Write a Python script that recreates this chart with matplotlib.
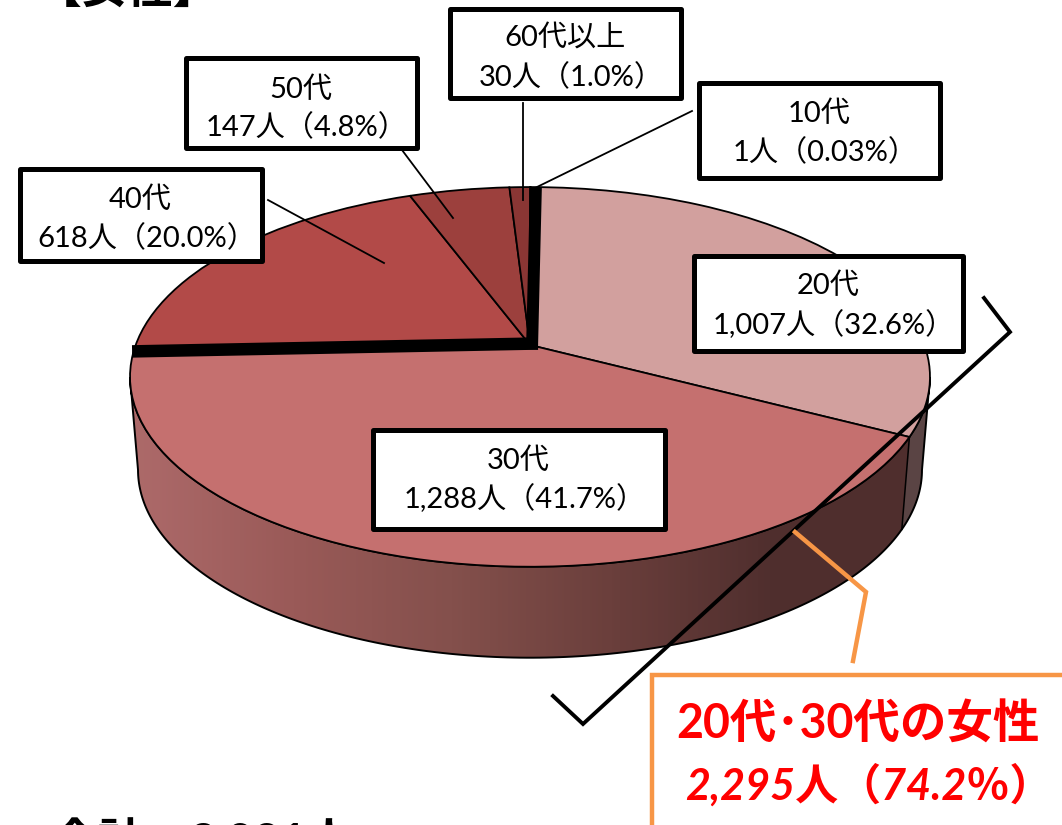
import numpy as np
import matplotlib
matplotlib.use("Agg")
import matplotlib.pyplot as plt
from matplotlib.colors import LinearSegmentedColormap
from matplotlib.patches import Rectangle, PathPatch
from matplotlib.path import Path
from matplotlib.transforms import Transform

plt.rcParams['font.family'] = ['Lato', 'Noto Sans CJK JP', 'DejaVu Sans']

# ---- data ----
ages = ['10代', '20代', '30代', '40代', '50代', '60代以上']
counts = [1, 1007, 1288, 618, 147, 30]
pct_labels = ['0.03', '32.6', '41.7', '20.0', '4.8', '1.0']
slice_colors = ['#000000', '#d2a09e', '#c5706f', '#b24a48', '#9c403d', '#8a3634']
side_stops = ['#ad6a6a', '#9a5a58', '#84504c', '#6b3f3c', '#502f2e', '#4f2e2d']
side_20s_color = '#5a4444'
title = '【女性】'
total_label = '合計　3,091人'
callout_lines = ['20代･30代の女性', '2,295人（74.2％）']

# ---- layout (pixel coordinates) ----
W, H = 1062, 825
CX, Q, P, R, A = 530.0, 345.0, -126.5, 0.168, 394.3
START = 90.0
BASE_CY, TOP_CY, BASE_B, TOP_B, BASE_A, TOP_A = 470.0, 377.0, 188.0, 190.0, 392.0, 400.0
boxes = {
    '60代以上': (447, 6, 683, 100, 38, 77),
    '50代': (183, 55, 419, 150, 90, 127),
    '40代': (17, 166, 264, 263, 200, 238),
    '10代': (696, 80, 942, 180, 114, 152),
    '20代': (691, 253, 965, 353, 286, 325),
    '30代': (370, 427, 667, 531, 461, 499),
}


class Perspective(Transform):
    input_dims = 2
    output_dims = 2
    is_separable = False
    has_inverse = False

    def transform_non_affine(self, xy):
        xy = np.asarray(xy, float)
        w = 1 + R * xy[:, 1]
        return np.column_stack((CX + A * xy[:, 0] / w, (Q + P * xy[:, 1]) / w))


persp = Perspective()
fig = plt.figure(figsize=(W / 100, H / 100), dpi=100, facecolor='white')
ax = fig.add_axes([0, 0, 1, 1])

wedges, _ = ax.pie(counts, startangle=START, counterclock=False, colors=slice_colors,
                   wedgeprops=dict(edgecolor='black', linewidth=1.3, zorder=3))
ax.set_aspect('auto')
ax.set_xlim(0, W)
ax.set_ylim(H, 0)
ax.axis('off')
for w in wedges:
    w.set_transform(persp + ax.transData)


def top_pts(theta_deg):
    t = np.radians(theta_deg)
    return persp.transform_non_affine(np.column_stack((np.cos(t), np.sin(t))))


def base_pts(pts):
    x = CX + (pts[:, 0] - CX) * BASE_A / TOP_A
    y = BASE_CY + (pts[:, 1] - TOP_CY) * BASE_B / TOP_B
    return np.column_stack((x, y))


def side_path(t0, t1):
    th = np.linspace(t0, t1, 200)
    top = top_pts(th)
    return Path(np.vstack((top, base_pts(top)[::-1], top[:1])), closed=True)


# slice boundary angles, clockwise from START
fracs = np.cumsum(counts) / np.sum(counts)
bounds = START - 360 * fracs
edge_20_30 = bounds[1]
edge_30_40 = bounds[2]

# side wall with left-to-right shading
LEFT_T, RIGHT_T = -170.3, -9.7
cmap = LinearSegmentedColormap.from_list('side', side_stops)
grad = np.linspace(0, 1, 400).reshape(1, -1)
img = ax.imshow(grad, cmap=cmap, extent=(130, 930, 670, 180), aspect='auto', zorder=1)
clip = PathPatch(side_path(LEFT_T, RIGHT_T), transform=ax.transData)
img.set_clip_path(clip)
ax.add_patch(PathPatch(side_path(edge_20_30, RIGHT_T), facecolor=side_20s_color,
                       edgecolor='none', zorder=1.5))
ax.add_patch(PathPatch(side_path(LEFT_T, RIGHT_T), facecolor='none',
                       edgecolor='black', linewidth=1.4, zorder=2))
seam = top_pts(np.array([edge_20_30]))
seam_b = base_pts(seam)
ax.plot([seam[0, 0], seam_b[0, 0]], [seam[0, 1], seam_b[0, 1]], color='black', lw=1.1, zorder=2)
ax.set_xlim(0, W)
ax.set_ylim(H, 0)

# heavy separators on the 10s slice and at the 30s/40s edge
top_end = top_pts(np.array([START - 1.0]))[0]
left_end = top_pts(np.array([edge_30_40]))[0]
ax.plot([top_end[0], CX + 2], [top_end[1], Q + 4.5], color='black', lw=8.6,
        solid_capstyle='butt', zorder=4)
ax.plot([left_end[0] - 1, CX + 8], [left_end[1] - 2, Q - 1.5], color='black', lw=9.0,
        solid_capstyle='butt', zorder=4)

# leader lines
leaders = [((523, 103), (523, 200)), ((692, 111), (535, 188)),
           ((402, 150), (453, 218)), ((268, 200), (384, 263))]
for (x0, y0), (x1, y1) in leaders:
    ax.plot([x0, x1], [y0, y1], color='black', lw=1.3, zorder=5)

# label boxes
LABEL_PT = 21
for age, n, pct in zip(ages, counts, pct_labels):
    x0, y0, x1, y1, ty0, ty1 = boxes[age]
    ax.add_patch(Rectangle((x0 + 2.5, y0 + 2.5), x1 - x0 - 5, y1 - y0 - 5, facecolor='white',
                           edgecolor='black', linewidth=3.6, joinstyle='round', zorder=6))
    xc = (x0 + x1) / 2
    ax.text(xc, ty0, age, ha='center', va='center', fontsize=LABEL_PT, color='black', zorder=7)
    ax.text(xc + 6, ty1, f'{n:,}人（{pct}%）', ha='center', va='center', fontsize=LABEL_PT,
            color='black', zorder=7)

# big bracket
ax.plot([984, 1010, 583, 553], [298, 332, 724, 696], color='black', lw=2.8,
        solid_joinstyle='miter', zorder=8)

# orange call-out
ORANGE = '#f79646'
ax.plot([795, 866, 853], [532, 592, 661], color=ORANGE, lw=3.2, solid_joinstyle='miter', zorder=8)
ax.add_patch(Rectangle((652, 675), 460, 200, facecolor='white', edgecolor=ORANGE,
                       linewidth=3.2, zorder=8))
ax.text(858, 725, callout_lines[0], ha='center', va='center', fontsize=33.5, fontweight='bold',
        color='#ff0000', zorder=9)
ax.text(869, 785, callout_lines[1], ha='center', va='center', fontsize=31, fontweight='bold',
        fontstyle='italic', color='#ff0000', zorder=9)

# clipped headings
ax.text(36, 3, title, ha='left', va='baseline', fontsize=33, fontweight='bold', color='black', zorder=9)
ax.text(52, 819, total_label, ha='left', va='top', fontsize=33, fontweight='bold', color='black', zorder=9)

fig.savefig('out.png', dpi=100, facecolor='white')
